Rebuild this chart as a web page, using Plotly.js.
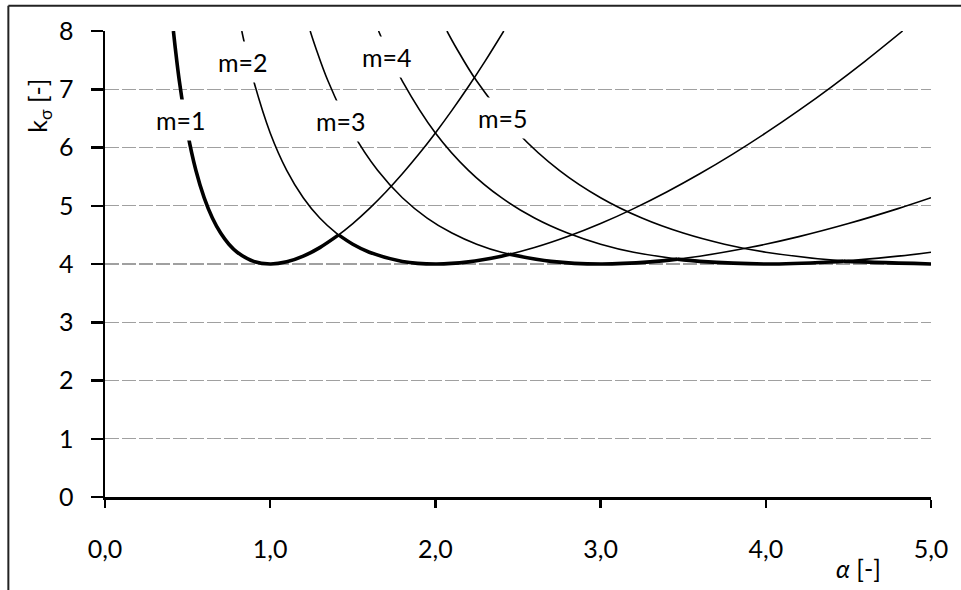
<!DOCTYPE html>
<html>
<head>
<meta charset="utf-8">
<script src="https://cdn.plot.ly/plotly-3.0.1.min.js"></script>
<style>html,body{margin:0;padding:0;background:#fff;}#chart{width:961px;height:590px;}</style>
</head>
<body>
<div id="chart"></div>
<script>
// Buckling coefficient curves
const alphaM1 = [0.414,0.425,0.45,0.5,0.55,0.6,0.65,0.7,0.75,0.8,0.9,1.0,1.1,1.2,1.3,1.4,1.5,1.6,1.7,1.8,1.9,2.0,2.1,2.2,2.3,2.414];
const kM1     = [8.0,7.717,7.141,6.25,5.608,5.138,4.789,4.531,4.340,4.2025,4.0446,4.0,4.0365,4.1344,4.2818,4.4702,4.6944,4.9506,5.236,5.5486,5.8869,6.25,6.6368,7.0466,7.4791,8.0];
const alphaM2 = [0.828,0.85,0.9,1.0,1.1,1.2,1.3,1.4,1.5,1.6,1.8,2.0,2.2,2.4,2.6,2.8,3.0,3.2,3.4,3.6,3.8,4.0,4.2,4.4,4.6,4.828];
const kM2     = [8.0,7.717,7.141,6.25,5.608,5.138,4.789,4.531,4.340,4.2025,4.0446,4.0,4.0365,4.1344,4.2818,4.4702,4.6944,4.9506,5.236,5.5486,5.8869,6.25,6.6368,7.0466,7.4791,8.0];
const alphaM3 = [1.242,1.275,1.35,1.5,1.65,1.8,1.95,2.1,2.25,2.4,2.7,3.0,3.3,3.6,3.9,4.2,4.5,4.8,5.0];
const kM3     = [8.0,7.717,7.141,6.25,5.608,5.138,4.789,4.531,4.340,4.2025,4.0446,4.0,4.0365,4.1344,4.2818,4.4702,4.6944,4.9506,5.1378];
const alphaM4 = [1.656,1.7,1.8,2.0,2.2,2.4,2.6,2.8,3.0,3.2,3.6,4.0,4.4,4.8,5.0];
const kM4     = [8.0,7.717,7.141,6.25,5.608,5.138,4.789,4.531,4.340,4.2025,4.0446,4.0,4.0365,4.1344,4.2025];
const alphaM5 = [2.07,2.125,2.25,2.5,2.75,3.0,3.25,3.5,3.75,4.0,4.5,5.0];
const kM5     = [8.0,7.717,7.141,6.25,5.608,5.138,4.789,4.531,4.340,4.2025,4.0446,4.0];
// Envelope (minimum of all curves), segments separated by null
const alphaMin = [0.414,0.425,0.45,0.5,0.55,0.6,0.65,0.7,0.75,0.8,0.9,1.0,1.1,1.2,1.3,1.414,null,
                  1.414,1.5,1.6,1.8,2.0,2.2,2.4,2.449,null,
                  2.449,2.7,3.0,3.3,3.464,null,
                  3.464,3.6,4.0,4.4,4.472,null,
                  4.472,4.5,5.0];
const kMin     = [8.0,7.717,7.141,6.25,5.608,5.138,4.789,4.531,4.340,4.2025,4.0446,4.0,4.0365,4.1344,4.2818,4.5,null,
                  4.5,4.340,4.2025,4.0446,4.0,4.0365,4.1344,4.1667,null,
                  4.1667,4.0446,4.0,4.0365,4.0833,null,
                  4.0833,4.0446,4.0,4.0365,4.05,null,
                  4.05,4.0446,4.0];

const labels = ["m=1","m=2","m=3","m=4","m=5"];
const labelX = [0.46,0.835,1.43,1.71,2.41];
const labelY = [6.47,7.47,6.45,7.55,6.5];
const xTicks = [0,1,2,3,4,5];
const yTicks = [0,1,2,3,4,5,6,7,8];

const FONT = "Lato, 'Open Sans', sans-serif";
const thin = {color:'#000', width:1.6, shape:'spline', smoothing:1};
const series = [[alphaM1,kM1],[alphaM2,kM2],[alphaM3,kM3],[alphaM4,kM4],[alphaM5,kM5]];
const traces = series.map(s => ({x:s[0], y:s[1], mode:'lines', line:thin, hoverinfo:'skip', showlegend:false}));
traces.push({x:alphaMin, y:kMin, mode:'lines', connectgaps:false,
  line:{color:'#000', width:3.6, shape:'spline', smoothing:1}, hoverinfo:'skip', showlegend:false});

const annotations = labels.map((t,i) => ({x:labelX[i], y:labelY[i], xref:'x', yref:'y', text:t, showarrow:false,
  font:{family:FONT, size:25, color:'#000'}, bgcolor:'#fff', borderpad:5}));
annotations.push({xref:'paper', yref:'paper', x:-0.081, y:0.84, text:'k<sub>σ</sub> [-]', textangle:-90, showarrow:false,
  font:{family:FONT, size:25, color:'#000'}, xanchor:'center', yanchor:'middle'});
annotations.push({xref:'paper', yref:'paper', x:0.912, y:-0.153, text:'<i>α</i> [-]', showarrow:false,
  font:{family:FONT, size:25, color:'#000'}, xanchor:'center', yanchor:'middle'});

const layout = {
  width:961, height:590,
  margin:{l:105, r:30, t:31, b:93},
  paper_bgcolor:'#fff', plot_bgcolor:'#fff',
  separators:', ',
  font:{family:FONT, size:25, color:'#000'},
  xaxis:{range:[0,5], tickvals:xTicks, tickformat:'.1f', showgrid:false, zeroline:false,
    showline:true, linecolor:'#000', linewidth:2.5, ticks:'outside', ticklen:8, tickwidth:2.5, tickcolor:'#000',
    ticklabelstandoff:20, tickfont:{family:FONT, size:25}},
  yaxis:{range:[0,8], tickvals:yTicks, showgrid:true, gridcolor:'#a0a0a0', gridwidth:1.3, griddash:'14px,3px',
    zeroline:false, showline:true, linecolor:'#000', linewidth:2.5, ticks:'outside', ticklen:12, tickwidth:2.5,
    tickcolor:'#000', ticklabelstandoff:12, tickfont:{family:FONT, size:25}},
  shapes:[
    {type:'line', xref:'paper', yref:'paper', x0:-0.117, x1:1.05, y0:1.054, y1:1.054, line:{color:'#222', width:2}},
    {type:'line', xref:'paper', yref:'paper', x0:-0.117, x1:-0.117, y0:1.054, y1:-0.21, line:{color:'#222', width:2}}
  ],
  annotations:annotations
};
Plotly.newPlot('chart', traces, layout, {staticPlot:true, displayModeBar:false});
</script>
</body>
</html>
